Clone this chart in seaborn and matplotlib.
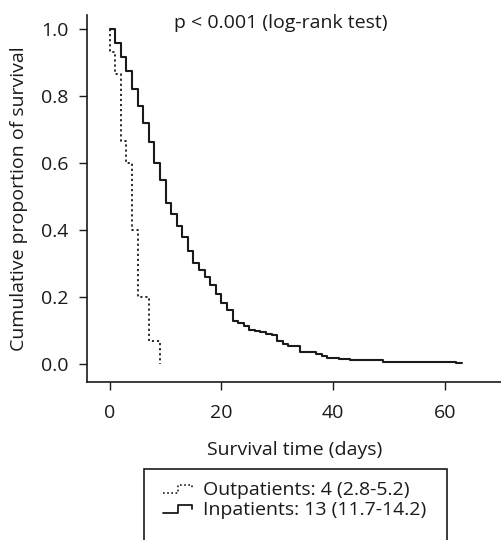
import matplotlib
matplotlib.use("Agg")
import matplotlib.pyplot as plt
import seaborn as sns
import pandas as pd
from matplotlib.lines import Line2D
from matplotlib.legend_handler import HandlerBase
from matplotlib.patches import Rectangle

# ---- data ----
out_time = [0, 0, 1, 2, 3, 4, 5, 7, 9]
out_surv = [1.0, 0.933, 0.867, 0.667, 0.600, 0.400, 0.200, 0.067, 0.0]

in_time = [0, 1, 2, 3, 4, 5, 6, 7, 8, 9, 10, 11, 12, 13, 14, 15, 16, 17, 18, 19,
           20, 21, 22, 23, 24, 25, 26, 27, 28, 29, 30, 31, 32, 34, 37, 38, 39, 41,
           43, 49, 62, 63]
in_surv = [1.0, 0.958, 0.918, 0.876, 0.821, 0.770, 0.719, 0.663, 0.599, 0.549,
           0.481, 0.449, 0.412, 0.379, 0.337, 0.301, 0.279, 0.259, 0.234, 0.207,
           0.181, 0.160, 0.128, 0.122, 0.113, 0.102, 0.098, 0.094, 0.090, 0.085,
           0.068, 0.060, 0.054, 0.035, 0.030, 0.022, 0.018, 0.014, 0.011, 0.006,
           0.003, 0.003]

legend_labels = ["Outpatients: 4 (2.8-5.2)", "Inpatients: 13 (11.7-14.2)"]
title_text = "p < 0.001 (log-rank test)"
x_ticks = [0, 20, 40, 60]
y_ticks = [0.0, 0.2, 0.4, 0.6, 0.8, 1.0]

sns.set_theme(style="ticks")
plt.rcParams["font.family"] = ["Open Sans", "DejaVu Sans"]
FS = 14

ink = "#1a1a1a"
fig = plt.figure(figsize=(5.02, 5.40), dpi=100)
ax = fig.add_axes([87 / 502, (540 - 382) / 540, 1 - 87 / 502, (382 - 15) / 540])

df_out = pd.DataFrame({"time": out_time, "surv": out_surv})
df_in = pd.DataFrame({"time": in_time, "surv": in_surv})

sns.lineplot(data=df_out, x="time", y="surv", estimator=None, sort=False, ax=ax,
             drawstyle="steps-post", color=ink, lw=1.3, linestyle=(0, (1.2, 1.6)))
sns.lineplot(data=df_in, x="time", y="surv", estimator=None, sort=False, ax=ax,
             drawstyle="steps-post", color=ink, lw=1.5)

ax.set_xlim(-4.06, 70.25)
ax.set_ylim(-0.055, 1.043)
ax.set_xticks(x_ticks)
ax.set_xticklabels([str(t) for t in x_ticks], fontsize=FS, color=ink)
ax.set_yticks(y_ticks)
ax.set_yticklabels([f"{v:.1f}" for v in y_ticks], fontsize=FS, color=ink)
ax.tick_params(axis="both", length=5.5, width=1.0, color=ink)
ax.tick_params(axis="x", pad=10)
ax.tick_params(axis="y", pad=8)
for s in ["top", "right"]:
    ax.spines[s].set_visible(False)
for s in ["left", "bottom"]:
    ax.spines[s].set_color(ink)
    ax.spines[s].set_linewidth(1.2)

ax.set_xlabel("Survival time (days)", fontsize=FS, color=ink, labelpad=14)
ax.set_ylabel("Cumulative proportion of survival", fontsize=FS, color=ink, labelpad=9)
ax.text(30.7, 1.02, title_text, ha="center", va="center", fontsize=FS, color=ink)


class StepHandler(HandlerBase):
    def __init__(self, ls, lw):
        super().__init__()
        self.ls = ls
        self.lw = lw

    def create_artists(self, legend, orig_handle, xdescent, ydescent, width,
                       height, fontsize, trans):
        x0 = -xdescent
        y0 = -ydescent
        xs = [x0, x0 + 0.45 * width, x0 + 0.45 * width, x0 + 0.85 * width,
              x0 + 0.85 * width]
        ys = [y0 + 0.15 * height, y0 + 0.15 * height, y0 + 0.7 * height,
              y0 + 0.7 * height, y0 + 0.4 * height]
        ln = Line2D(xs, ys, color=ink, lw=self.lw, linestyle=self.ls,
                    transform=trans)
        return [ln]


h1 = Line2D([], [], color=ink)
h2 = Line2D([], [], color=ink)
leg = fig.legend([h1, h2], legend_labels,
                 handler_map={h1: StepHandler((0, (1.0, 1.5)), 1.2),
                              h2: StepHandler("-", 1.3)},
                 loc="upper left", bbox_to_anchor=(153 / 502, (540 - 471) / 540),
                 frameon=False, fontsize=FS, handlelength=1.75, handletextpad=0.3,
                 labelspacing=0.1, borderpad=0.0)
for t in leg.get_texts():
    t.set_color(ink)

fig.patches.append(Rectangle((144 / 502, -0.05), (447 - 144) / 502,
                             (540 - 469) / 540 + 0.05, transform=fig.transFigure,
                             fill=False, edgecolor=ink, lw=1.2))

fig.savefig("out.png", dpi=100)
